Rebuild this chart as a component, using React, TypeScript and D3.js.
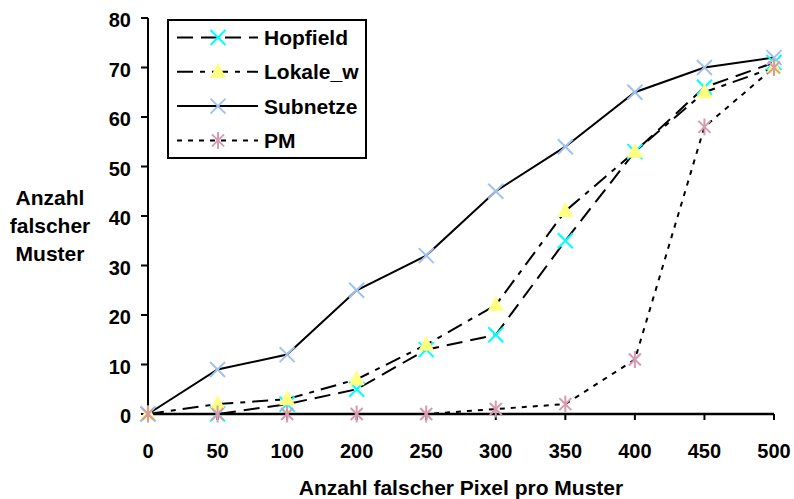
import * as d3 from "d3"
import React from "react"

const categories = ["0", "50", "100", "200", "250", "300", "350", "400", "450", "500"]
const hopfield = [0, 0, 2, 5, 13, 16, 35, 53, 66, 71]
const lokale = [0, 2, 3, 7, 14, 22, 41, 53, 65, 70]
const subnetze = [0, 9, 12, 25, 32, 45, 54, 65, 70, 72]
const pm = [0, 0, 0, 0, 0, 1, 2, 11, 58, 70]
const yTicks = [0, 10, 20, 30, 40, 50, 60, 70, 80]

const seriesList = [
    { name: "Hopfield", values: hopfield, dash: "16,8", marker: "x", color: "#00FFFF" },
    { name: "Lokale_w", values: lokale, dash: "16,7,5,7", marker: "tri", color: "#FFFF80" },
    { name: "Subnetze", values: subnetze, dash: null, marker: "x", color: "#A2C2EE" },
    { name: "PM", values: pm, dash: "5,6", marker: "star", color: "#D89AAE" },
]

const font = "'Liberation Sans', Arial, sans-serif"

const Marker = ({ type, color, x, y }) => {
    // one marker centred on x, y
    const s = 7.5
    if (type === "tri") {
        return <path d={`M${x},${y - 9} L${x + 8},${y + 6} L${x - 8},${y + 6} Z`} fill={color} />
    }
    if (type === "star") {
        return (
            <g stroke={color} strokeWidth={2}>
                <line x1={x - 6} y1={y - 6} x2={x + 6} y2={y + 6} />
                <line x1={x - 6} y1={y + 6} x2={x + 6} y2={y - 6} />
                <line x1={x} y1={y - s - 1} x2={x} y2={y + s + 1} />
            </g>
        )
    }
    return (
        <g stroke={color} strokeWidth={2}>
            <line x1={x - s} y1={y - s} x2={x + s} y2={y + s} />
            <line x1={x - s} y1={y + s} x2={x + s} y2={y - s} />
        </g>
    )
}

const App = () => {
    const scaleX = d3.scalePoint().domain(categories).range([148, 774])
    const scaleY = d3.scaleLinear().domain([0, 80]).range([414, 18])
    const line = d3.line<number>()
        .x((d, i) => scaleX(categories[i]))
        .y(d => scaleY(d))

    return (
        <svg width={794} height={499} style={{ position: "absolute", left: 0, top: 0 }}
            fontFamily={font} fontWeight="bold">
            <rect width={794} height={499} fill="#fff" />

            {/* y axis */}
            <line x1={148} x2={148} y1={scaleY(80)} y2={scaleY(0)} stroke="#000" strokeWidth={2} />
            {yTicks.map(t => (
                <g key={t}>
                    <line x1={141} x2={148} y1={scaleY(t)} y2={scaleY(t)} stroke="#000" strokeWidth={2} />
                    <text x={131} y={scaleY(t) + 9} textAnchor="end" fontSize={20}>{t}</text>
                </g>
            ))}

            {/* x axis */}
            <line x1={148} x2={774} y1={414} y2={414} stroke="#000" strokeWidth={2.5} />
            {categories.map(c => (
                <g key={c}>
                    <line x1={scaleX(c)} x2={scaleX(c)} y1={414} y2={420} stroke="#000" strokeWidth={2} />
                    <text x={scaleX(c)} y={458} textAnchor="middle" fontSize={20}>{c}</text>
                </g>
            ))}

            <text x={461} y={495} textAnchor="middle" fontSize={21}>Anzahl falscher Pixel pro Muster</text>
            <text textAnchor="middle" fontSize={21}>
                <tspan x={50} y={205}>Anzahl</tspan>
                <tspan x={50} y={233}>falscher</tspan>
                <tspan x={50} y={261}>Muster</tspan>
            </text>

            {seriesList.map(s => (
                <path key={s.name} d={line(s.values)} fill="none" stroke="#000" strokeWidth={2}
                    strokeDasharray={s.dash || undefined} />
            ))}
            {seriesList.map(s => (
                <g key={s.name + "m"}>
                    {s.values.map((v, i) => (
                        <Marker key={i} type={s.marker} color={s.color} x={scaleX(categories[i])} y={scaleY(v)} />
                    ))}
                </g>
            ))}

            {/* legend */}
            <rect x={168} y={20} width={198} height={138} fill="#fff" stroke="#000" strokeWidth={2} />
            {seriesList.map((s, i) => {
                const y = 37.5 + i * 34.3
                return (
                    <g key={s.name + "l"}>
                        <line x1={177} x2={258} y1={y} y2={y} stroke="#000" strokeWidth={2}
                            strokeDasharray={s.dash || undefined} />
                        <Marker type={s.marker} color={s.color} x={218} y={y} />
                        <text x={264} y={y} dy="0.36em" fontSize={21}>{s.name}</text>
                    </g>
                )
            })}
        </svg>
    )
}

export default App
